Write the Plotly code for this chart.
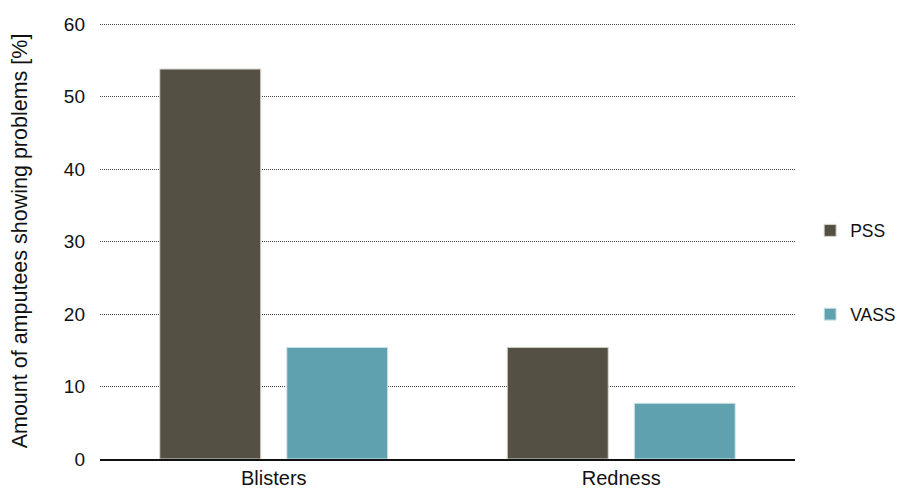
import plotly.graph_objects as go

categories = ["Blisters", "Redness"]
pss = [53.8, 15.4]
vass = [15.4, 7.7]
y_ticks = [0, 10, 20, 30, 40, 50, 60]

fig = go.Figure()
fig.add_trace(go.Bar(name="PSS", x=categories, y=pss, marker=dict(color="#545044", line=dict(color="#d8d8d0", width=1)), legendgroup="a"))
fig.add_trace(go.Bar(name="VASS", x=categories, y=vass, marker=dict(color="#5fa1af", line=dict(color="#d8e8ec", width=1)), legendgroup="b"))

fig.update_layout(
    width=918, height=491,
    margin=dict(l=100, r=123, t=23, b=32),
    paper_bgcolor="white", plot_bgcolor="white",
    font=dict(family="Liberation Sans, Arial, sans-serif", size=18, color="#111111"),
    barmode="group", bargap=0.269, bargroupgap=0.205,
    showlegend=True,
    legend=dict(xref="container", yref="container", x=0.8825, xanchor="left", y=0.445, yanchor="middle",
                tracegroupgap=58, font=dict(size=17.5), itemwidth=30, bgcolor="rgba(0,0,0,0)"),
    yaxis=dict(range=[0, 60.15], tickvals=y_ticks, showgrid=True, gridcolor="#444444",
               griddash="1px,1px", gridwidth=1, zeroline=False, ticks="", ticklabelstandoff=14,
               tickfont=dict(size=19), automargin=True,
               title=dict(text="Amount of amputees showing problems [%]", font=dict(size=21.5), standoff=30),
               showline=False),
    xaxis=dict(showline=True, linecolor="#111111", linewidth=1.5, ticks="", tickfont=dict(size=20),
               automargin=False),
)

fig.write_html("out.html")
